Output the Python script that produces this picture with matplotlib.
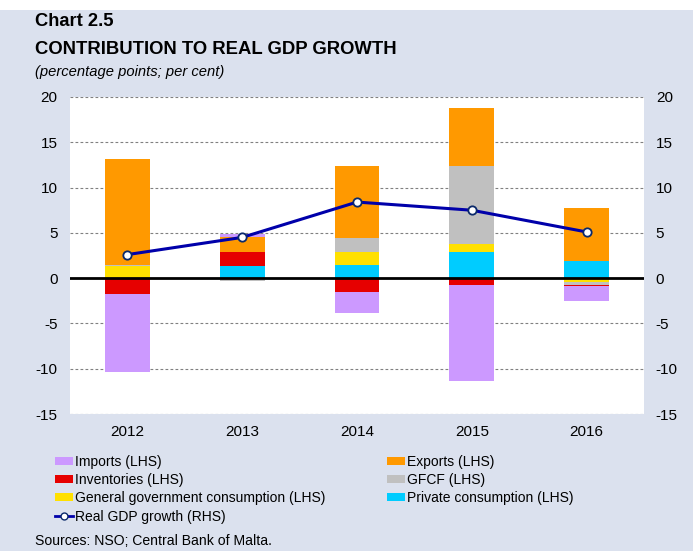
import matplotlib
matplotlib.use("Agg")
import matplotlib.pyplot as plt
import numpy as np
from matplotlib.patches import Rectangle, Patch
from matplotlib.lines import Line2D

plt.rcParams['font.family'] = ['Liberation Sans', 'DejaVu Sans']
plt.rcParams['axes.unicode_minus'] = False

years = ['2012', '2013', '2014', '2015', '2016']
private_cons = [0.0, 1.3, 1.5, 2.85, 1.9]
gov_cons = [1.3, 0.0, 1.35, 0.95, -0.45]
gfcf = [0.2, -0.3, 1.55, 8.6, -0.3]
inventories = [-1.7, 1.6, -1.55, -0.8, -0.1]
exports = [11.6, 1.65, 8.0, 6.4, 5.8]
imports = [-8.7, 0.3, -2.25, -10.6, -1.65]
gdp_growth = [2.6, 4.5, 8.4, 7.5, 5.1]

series = [
    ('Private consumption (LHS)', private_cons, '#00CCFF'),
    ('General government consumption (LHS)', gov_cons, '#FFE000'),
    ('GFCF (LHS)', gfcf, '#C0C0C0'),
    ('Inventories (LHS)', inventories, '#E60000'),
    ('Exports (LHS)', exports, '#FF9900'),
    ('Imports (LHS)', imports, '#CC99FF'),
]

bg = '#DBE1EE'
fig = plt.figure(figsize=(6.93, 5.51), dpi=100, facecolor=bg)
fig.patches.append(Rectangle((0, 1 - 10 / 551), 1, 10 / 551, transform=fig.transFigure,
                             facecolor='white', edgecolor='none', zorder=0))

ax = fig.add_axes([70 / 693, 1 - 414 / 551, 574 / 693, 317 / 551])
ax.set_facecolor('white')
x = np.arange(len(years))
pos = np.zeros(len(years))
neg = np.zeros(len(years))
handles = {}
for name, vals, col in series:
    v = np.array(vals)
    bottoms = np.where(v >= 0, pos, neg)
    ax.bar(x, v, width=0.39, bottom=bottoms, color=col, edgecolor='none', zorder=2)
    pos = pos + np.where(v >= 0, v, 0)
    neg = neg + np.where(v < 0, v, 0)
    handles[name] = Patch(facecolor=col, edgecolor='none')

ax.set_xlim(-0.5, 4.5)
ax.set_ylim(-15, 20)
ax.set_yticks(np.arange(-15, 21, 5))
for yv in np.arange(-15, 21, 5):
    if yv != 0:
        ax.axhline(yv, color='#808080', linestyle=(0, (2.5, 2)), linewidth=0.8, zorder=1)
ax.axhline(0, color='black', linewidth=2, zorder=3)
for s in ax.spines.values():
    s.set_visible(False)
ax.set_xticks(x)
ax.set_xticklabels(years)
ax.tick_params(axis='both', length=0, labelsize=11, colors='black')
ax.tick_params(axis='x', pad=8)
ax.tick_params(axis='y', pad=9)

ax2 = ax.twinx()
ax2.set_ylim(-15, 20)
ax2.set_yticks(np.arange(-15, 21, 5))
for s in ax2.spines.values():
    s.set_visible(False)
ax2.tick_params(axis='y', length=0, labelsize=11, pad=8.5)
ax2.plot(x, gdp_growth, color='#0000AA', linewidth=2.2, marker='o', markersize=6,
         markerfacecolor='white', markeredgecolor='#0B2A6B', markeredgewidth=1.3, zorder=5)

fig.text(35 / 693, 1 - 21 / 551, 'Chart 2.5', fontsize=13.2, fontweight='bold', va='center', ha='left')
fig.text(35 / 693, 1 - 49.5 / 551, 'CONTRIBUTION TO REAL GDP GROWTH', fontsize=13.3, fontweight='bold', va='center', ha='left')
fig.text(35 / 693, 1 - 72 / 551, '(percentage points; per cent)', fontsize=10.6, style='italic', va='center', ha='left')
fig.text(35 / 693, 1 - 541 / 551, 'Sources: NSO; Central Bank of Malta.', fontsize=10.1, va='center', ha='left')

gdp_handle = Line2D([], [], color='#0000AA', linewidth=2, marker='o', markersize=5,
                    markerfacecolor='white', markeredgecolor='#0B2A6B')
left_names = ['Imports (LHS)', 'Inventories (LHS)', 'General government consumption (LHS)']
right_names = ['Exports (LHS)', 'GFCF (LHS)', 'Private consumption (LHS)']
leg_kw = dict(frameon=False, fontsize=10, handlelength=1.3, handleheight=0.5,
              handletextpad=0.15, labelspacing=0.3, borderaxespad=0, borderpad=0)
l1 = fig.legend([handles[n] for n in left_names] + [gdp_handle],
                left_names + ['Real GDP growth (RHS)'],
                loc='upper left', bbox_to_anchor=(55 / 693, 1 - 455 / 551), **leg_kw)
l2 = fig.legend([handles[n] for n in right_names], right_names,
                loc='upper left', bbox_to_anchor=(387 / 693, 1 - 455 / 551), **leg_kw)

fig.savefig('out.png', dpi=100, facecolor=bg)
